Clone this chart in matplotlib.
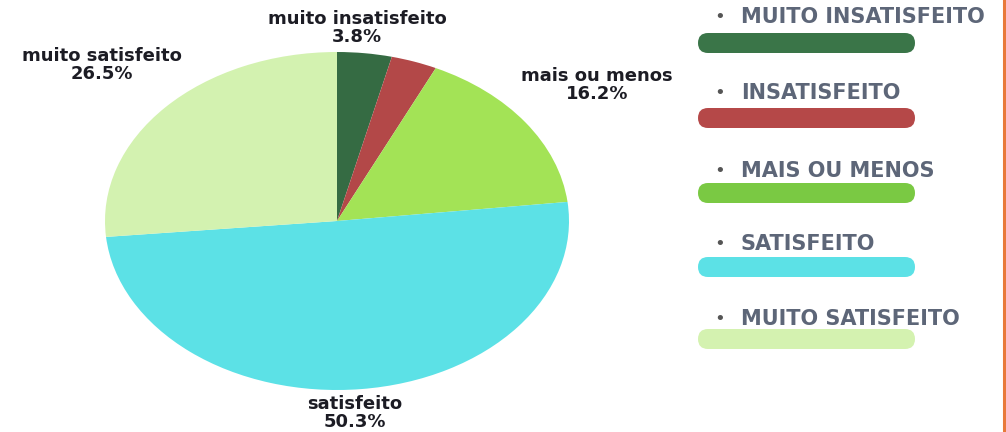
import numpy as np
import matplotlib
matplotlib.use('Agg')
import matplotlib.pyplot as plt
from matplotlib.patches import FancyBboxPatch
from matplotlib.lines import Line2D

categories = ['muito insatisfeito', 'insatisfeito', 'mais ou menos', 'satisfeito', 'muito satisfeito']
legend_names = ['MUITO INSATISFEITO', 'INSATISFEITO', 'MAIS OU MENOS', 'SATISFEITO', 'MUITO SATISFEITO']
values = [3.8, 3.2, 16.2, 50.3, 26.5]
show_label = [True, False, True, True, True]

pie_colors = ['#356b43', '#b34848', '#a3e356', '#5ce1e6', '#d3f2b0']
legend_colors = ['#3a7548', '#b54848', '#7ac943', '#5ce1e6', '#d4f2b0']
label_dist = [1.15, 1.15, 1.38, 1.14, 1.37]
label_shift = [-0.05, 0, 0, -0.04, 0]

fig = plt.figure(figsize=(10.06, 4.32), dpi=100)

# pie is drawn as an ellipse: wider than tall
ax = fig.add_axes([105 / 1006, 42 / 432, 464 / 1006, 338 / 432])
wedges, _ = ax.pie(values, colors=pie_colors, startangle=90, counterclock=False,
                   wedgeprops=dict(linewidth=0))
ax.set_aspect('auto')
ax.set_xlim(-1, 1)
ax.set_ylim(-1, 1)
ax.axis('off')

total = sum(values)
cum = 0.0
for i, v in enumerate(values):
    mid = 90 - (cum + v / 2) / total * 360
    cum += v
    if not show_label[i]:
        continue
    a = np.deg2rad(mid)
    x = label_dist[i] * np.cos(a) + label_shift[i]
    y = label_dist[i] * np.sin(a)
    ax.text(x, y, '%s\n%.1f%%' % (categories[i], v), ha='center', va='center',
            fontsize=13, fontweight='bold', color='#1c1c24', linespacing=1.0,
            clip_on=False)

# legend on the right: bullet + name, then a rounded colour bar
text_y = [17, 93, 171, 244, 319]
bar_top = [33, 108, 183, 257, 329]
for i, name in enumerate(legend_names):
    ty = 1 - text_y[i] / 432
    fig.text(720 / 1006, ty, '\u2022', ha='center', va='center', fontsize=13,
             color='#555555')
    fig.text(741 / 1006, ty, name, ha='left', va='center', fontsize=15,
             fontweight='bold', color='#5d6678')
    bx, bw, bh = 698, 217, 20
    by = 432 - bar_top[i] - bh
    r = bh / 2
    patch = FancyBboxPatch((bx / 1006, by / 432), bw / 1006, bh / 432,
                           boxstyle='round,pad=0,rounding_size=%f' % (r / 1006),
                           transform=fig.transFigure, facecolor=legend_colors[i],
                           edgecolor='none', mutation_aspect=1006 / 432)
    fig.add_artist(patch)

fig.add_artist(Line2D([1004 / 1006, 1004 / 1006], [0, 1], color='#e8793a', linewidth=2.2,
                      transform=fig.transFigure))

fig.savefig('out.png', dpi=100)
